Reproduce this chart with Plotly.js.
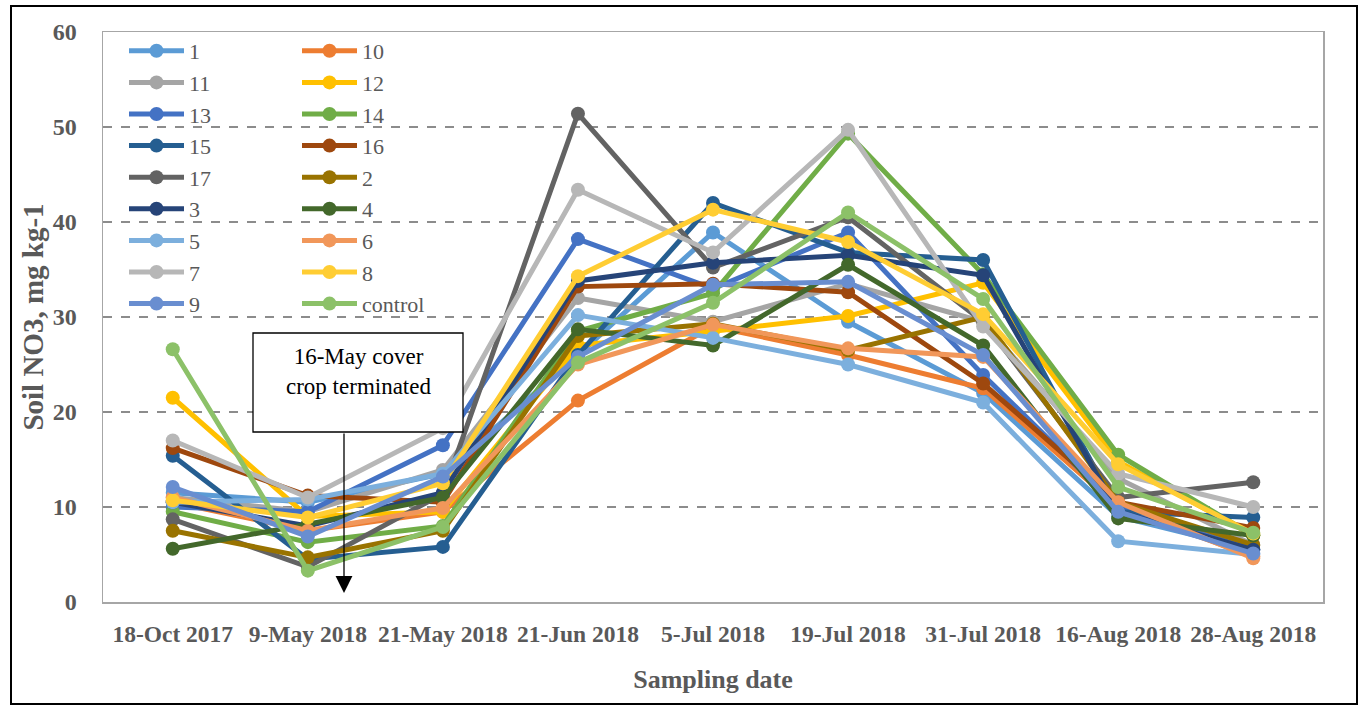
<!DOCTYPE html>
<html>
<head>
<meta charset="utf-8">
<script src="https://cdn.plot.ly/plotly-3.0.1.min.js"></script>
<style>html,body{margin:0;padding:0;background:#fff;}#chart{width:1361px;height:705px;}</style>
</head>
<body>
<div id="chart"></div>
<script>
const dates = ['18-Oct 2017','9-May 2018','21-May 2018','21-Jun 2018','5-Jul 2018','19-Jul 2018','31-Jul 2018','16-Aug 2018','28-Aug 2018'];
const seriesNames = ['1','10','11','12','13','14','15','16','17','2','3','4','5','6','7','8','9','control'];

const s1  = [11.5, 10.5, 13.5, 26.0, 38.9, 29.5, 22.0, 9.0, 5.5];
const s10 = [10.5, 7.5, 9.5, 21.2, 29.0, 26.0, 22.5, 10.0, 4.8];
const s11 = [11.0, 9.5, 13.9, 32.0, 29.5, 33.5, 29.5, 13.0, 6.0];
const s12 = [21.5, 9.0, 9.5, 27.0, 28.5, 30.1, 33.6, 14.8, 7.0];
const s13 = [10.0, 9.5, 16.5, 38.2, 33.0, 38.9, 23.9, 10.0, 5.5];
const s14 = [9.5, 6.3, 8.0, 28.5, 32.5, 49.3, 34.5, 15.5, 7.0];
const s15 = [15.4, 4.5, 5.8, 26.0, 42.0, 36.8, 36.0, 9.5, 8.9];
const s16 = [16.2, 11.2, 10.5, 33.2, 33.5, 32.6, 23.0, 10.5, 7.8];
const s17 = [8.7, 3.7, 11.4, 51.4, 35.2, 40.5, 29.5, 11.0, 12.6];
const s2  = [7.5, 4.7, 7.5, 28.0, 29.3, 26.5, 30.0, 10.5, 6.0];
const s3  = [10.5, 8.0, 11.5, 33.8, 35.7, 36.5, 34.4, 9.5, 5.5];
const s4  = [5.6, 8.2, 11.0, 28.7, 27.0, 35.5, 27.0, 8.8, 7.0];
const s5  = [10.5, 10.8, 13.5, 30.2, 27.8, 25.0, 21.0, 6.4, 5.0];
const s6  = [11.0, 7.5, 9.9, 25.0, 29.2, 26.7, 25.8, 10.5, 4.6];
const s7  = [17.0, 11.0, 18.3, 43.4, 36.8, 49.7, 29.0, 13.5, 10.0];
const s8  = [10.7, 8.9, 12.5, 34.3, 41.3, 37.9, 30.3, 14.5, 7.2];
const s9  = [12.1, 6.9, 13.2, 25.8, 33.4, 33.7, 26.0, 9.5, 5.1];
const sControl = [26.6, 3.3, 7.9, 25.2, 31.5, 41.0, 31.9, 12.1, 7.3];

const seriesValues = [s1, s10, s11, s12, s13, s14, s15, s16, s17, s2, s3, s4, s5, s6, s7, s8, s9, sControl];
const seriesColors = ['#5B9BD5','#ED7D31','#A5A5A5','#FFC000','#4472C4','#70AD47','#255E91','#9E480E','#636363','#997300','#264478','#43682B','#7CAFDD','#F1975A','#B7B7B7','#FFCD33','#698ED0','#8CC168'];

const FONT = 'Liberation Serif, Times New Roman, serif';
const GREY = '#595959';

const traces = seriesNames.map((name, i) => ({
  type: 'scatter',
  mode: 'lines+markers',
  name: name,
  x: dates,
  y: seriesValues[i],
  line: {color: seriesColors[i], width: 5},
  marker: {color: seriesColors[i], size: 14},
  legend: (i % 2 === 0) ? 'legend' : 'legend2',
  hoverinfo: 'x+y+name'
}));

// plot area geometry (px) used to place decorations in paper coords
const L = 103, R = 1323, T = 32, B = 602;
const px = v => (v - L) / (R - L);
const py = v => (B - v) / (B - T);

const legendCommon = {
  font: {family: FONT, size: 22, color: GREY},
  bgcolor: 'rgba(0,0,0,0)',
  borderwidth: 0,
  itemwidth: 55,
  tracegroupgap: 0,
  yanchor: 'top',
  xanchor: 'left',
  orientation: 'v',
  itemclick: false
};

const layout = {
  width: 1361,
  height: 705,
  margin: {l: L, r: 1361 - R, t: T, b: 705 - B, pad: 0},
  paper_bgcolor: '#ffffff',
  plot_bgcolor: '#ffffff',
  showlegend: true,
  legend: Object.assign({}, legendCommon, {x: px(124), y: py(30)}),
  legend2: Object.assign({}, legendCommon, {x: px(297), y: py(30)}),
  xaxis: {
    type: 'category',
    showgrid: false,
    showline: true,
    mirror: true,
    linecolor: '#a6a6a6',
    linewidth: 1.5,
    ticks: '',
    tickfont: {family: FONT, size: 23.5, color: GREY, weight: 'bold'},
    ticklabelstandoff: 10,
    title: {text: 'Sampling date', font: {family: FONT, size: 26, color: GREY, weight: 'bold'}, standoff: 24},
    fixedrange: true
  },
  yaxis: {
    range: [0, 60],
    dtick: 10,
    showgrid: true,
    gridcolor: '#8c8c8c',
    griddash: 'dash',
    gridwidth: 1.3,
    zeroline: false,
    showline: true,
    mirror: true,
    linecolor: '#a6a6a6',
    linewidth: 1.5,
    ticks: '',
    tickfont: {family: FONT, size: 24, color: GREY, weight: 'bold'},
    ticklabelstandoff: 20,
    title: {text: 'Soil NO3, mg kg-1', font: {family: FONT, size: 29, color: GREY, weight: 'bold'}, standoff: 0},
    fixedrange: true
  },
  shapes: [
    {type: 'rect', xref: 'paper', yref: 'paper', x0: px(11), x1: px(1357), y0: py(704), y1: py(6),
     line: {color: '#000000', width: 2}, fillcolor: 'rgba(0,0,0,0)', layer: 'below'},
    {type: 'rect', xref: 'paper', yref: 'paper', x0: px(253), x1: px(463), y0: py(432), y1: py(333),
     line: {color: '#000000', width: 1.3}, fillcolor: '#ffffff', layer: 'above'}
  ],
  annotations: [
    {xref: 'paper', yref: 'paper', x: px(358), y: py(371), xanchor: 'center', yanchor: 'middle',
     text: '16-May cover<br>crop terminated', showarrow: false, align: 'center',
     font: {family: FONT, size: 23, color: '#000000'}},
    {xref: 'paper', yref: 'paper', x: px(344), y: py(593), text: '', showarrow: true,
     ax: 0, ay: -(593 - 432), arrowhead: 2, arrowsize: 2.6, arrowwidth: 1.3, arrowcolor: '#000000', standoff: 0}
  ]
};

Plotly.newPlot('chart', traces, layout, {displayModeBar: false, staticPlot: true});
</script>
</body>
</html>
